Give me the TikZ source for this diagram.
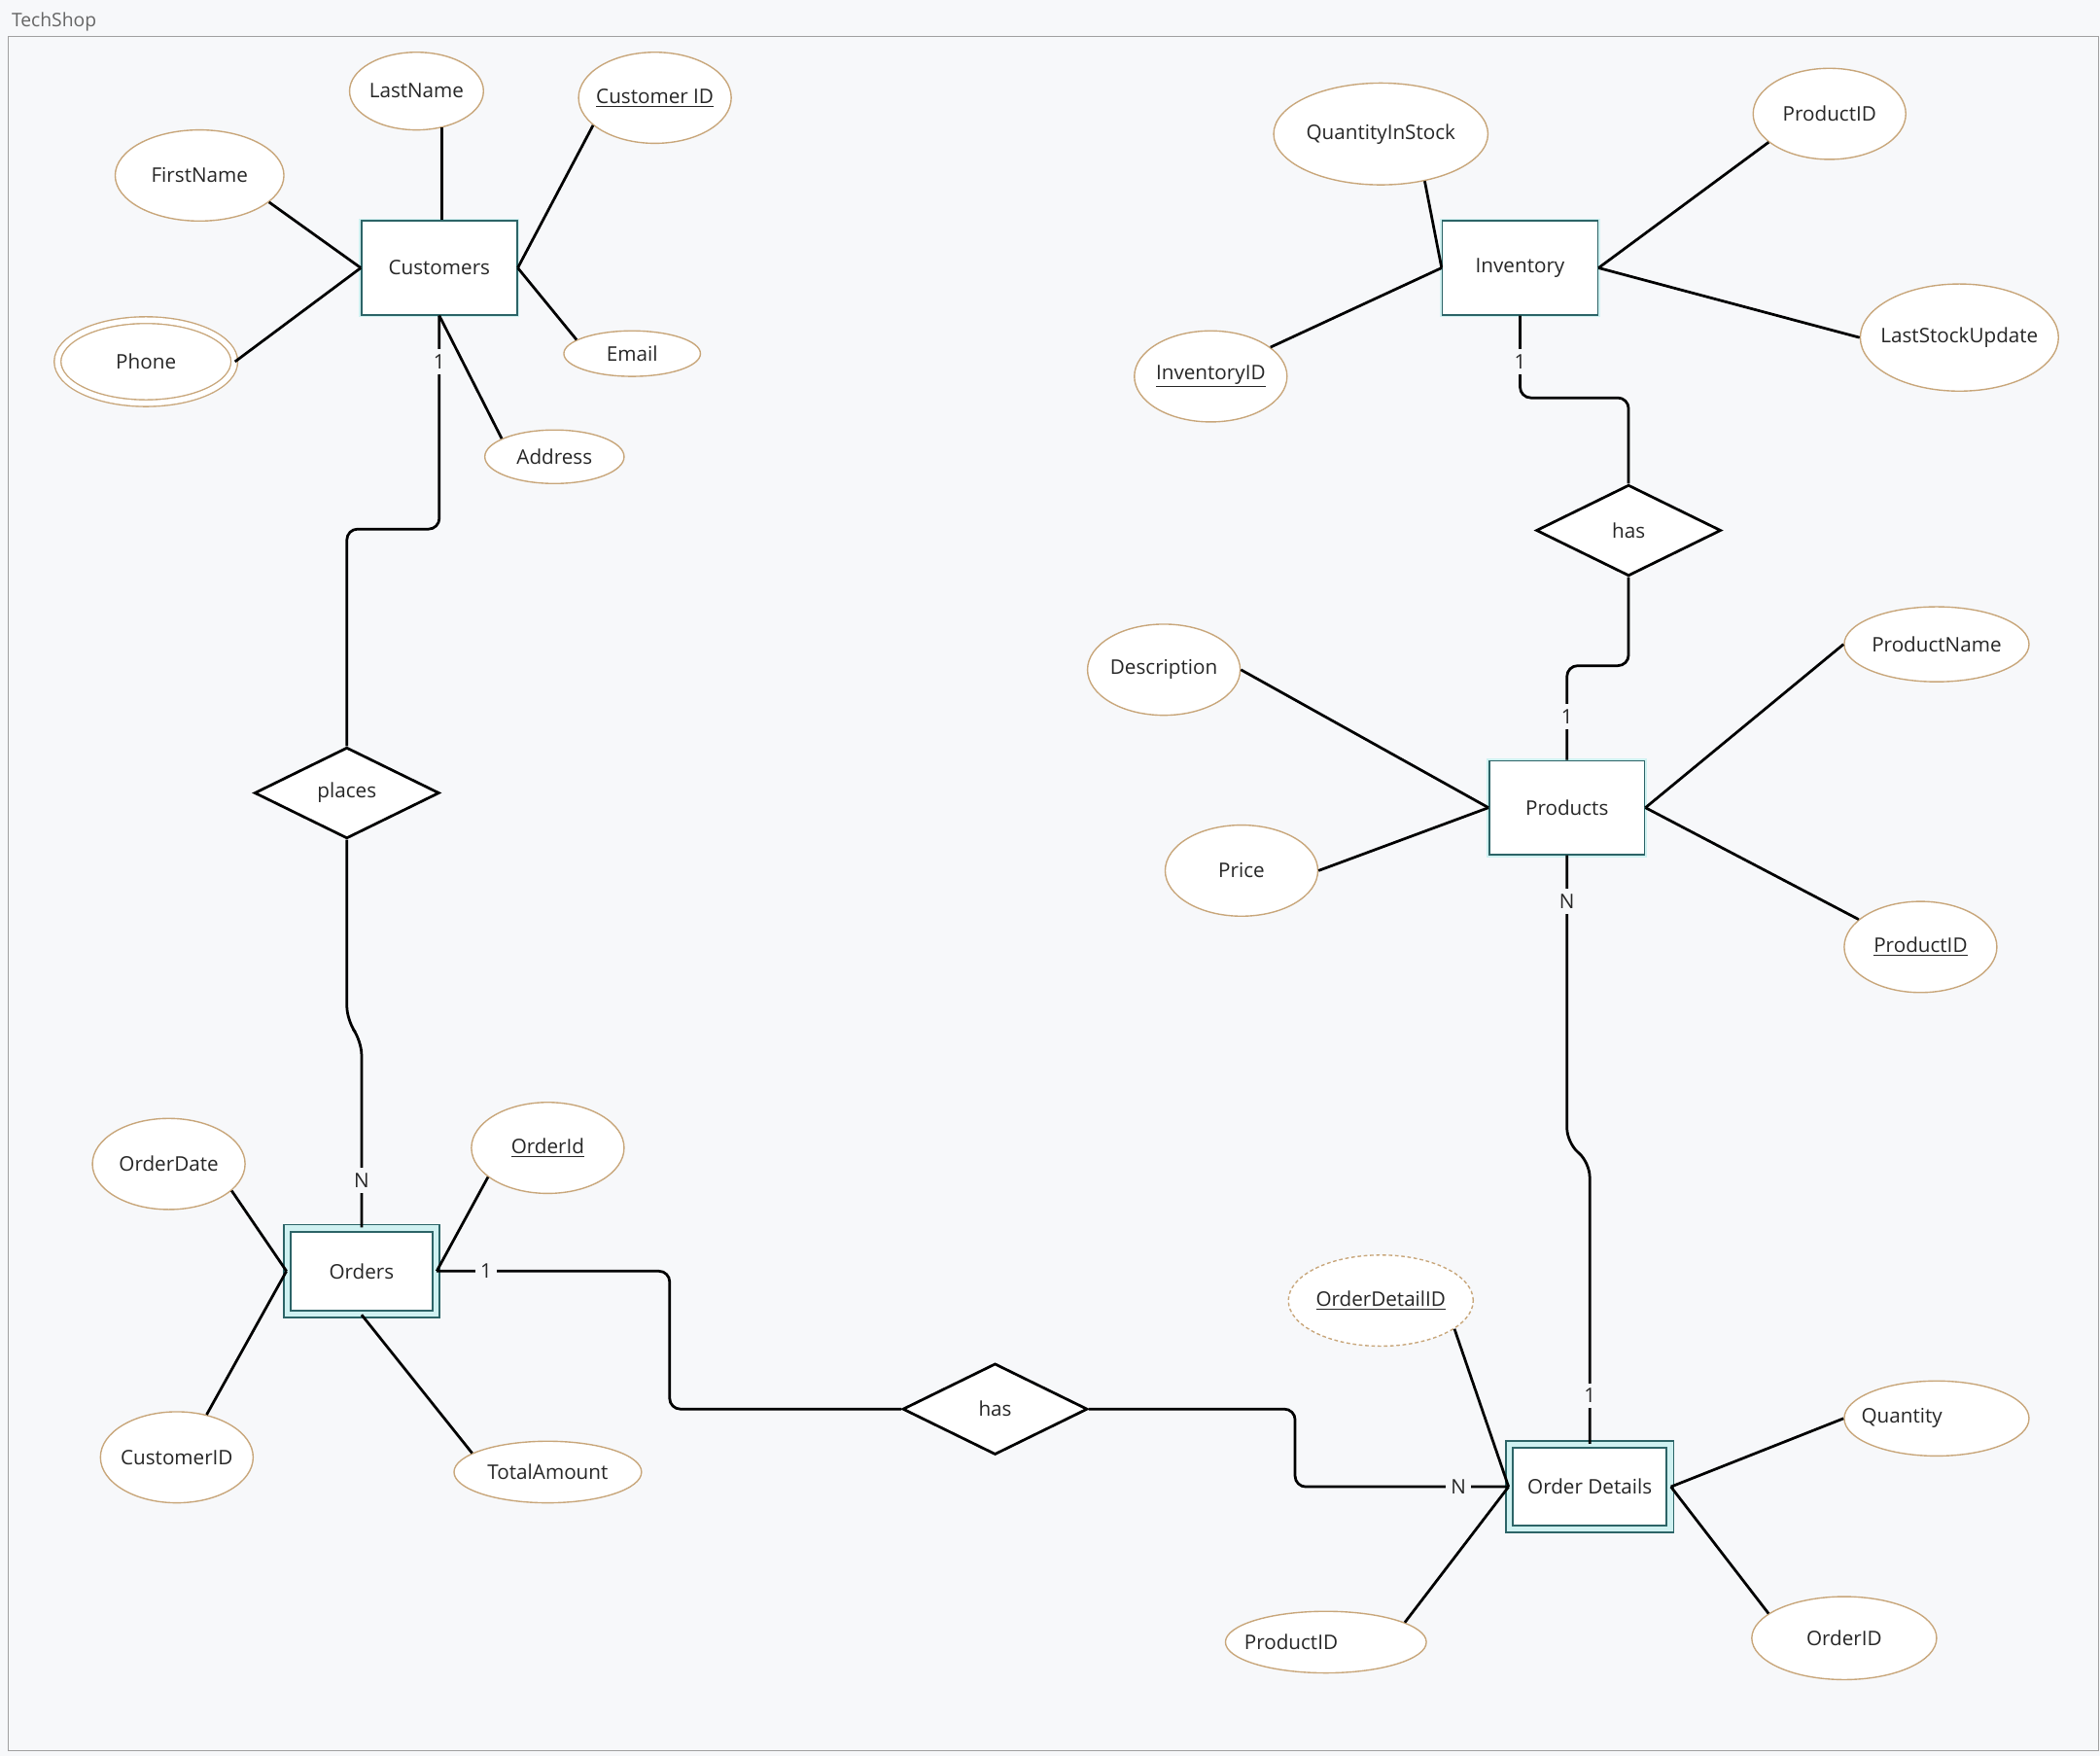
\documentclass[tikz,border=0pt]{standalone}
\usepackage{fontspec}
\setmainfont{Open Sans}
\usepackage{tikz}
\usetikzlibrary{shapes.geometric}

\definecolor{bgpage}{HTML}{F7F8FA}
\definecolor{attrline}{HTML}{C8A67A}
\definecolor{entline}{HTML}{2C6467}
\definecolor{entglow}{HTML}{CFF1F1}
\definecolor{frameline}{HTML}{A0A0A0}
\newcommand{\nw}[1]{\makebox[0pt]{#1}}

\begin{document}
\begin{tikzpicture}[x=0.75pt,y=0.75pt,yscale=-1,xscale=1,
  every node/.style={font=\fontsize{11.25}{13}\selectfont, text=black!85},
  attr/.style={ellipse, draw=attrline, line width=0.75, fill=white, inner sep=0pt},
  ent/.style={rectangle, draw=entline, line width=0.9, fill=white, inner sep=0pt,
    minimum width=87pt, minimum height=52.5pt, preaction={draw=entglow, line width=3pt}},
  weak/.style={rectangle, draw=entline, line width=0.9, fill=white, inner sep=0pt,
    double=entglow, double distance=3pt},
  rel/.style={diamond, draw=black, line width=1.5, fill=white, inner sep=0pt,
    minimum width=103.5pt, minimum height=51pt},
  link/.style={line width=1.5, draw=black},
  card/.style={fill=bgpage, inner sep=3pt}
]
%set diagram size
\fill[bgpage] (0,0) rectangle (1568,1311);
\useasboundingbox (0,0) rectangle (1568,1311);

%Shape: Frame
\draw[frameline, line width=0.75] (6,27) rectangle (1567,1307);
% Text Node
\node[anchor=west, text=black!60, font=\fontsize{10.5}{12}\selectfont] (title) at (4,16) {TechShop};

%Entities
\node[ent] (cust) at (328,200) {\nw{Customers}};
\node[ent] (inv) at (1135,200) {\nw{Inventory}};
\node[ent] (prod) at (1170,603) {\nw{Products}};
\node[weak, minimum width=83.25pt, minimum height=48pt] (orders) at (270,949) {\nw{Orders}};
\node[weak, minimum width=90pt, minimum height=47.25pt] (od) at (1187,1110) {\nw{Order Details}};

%Relationships
\node[rel] (places) at (259,592) {\nw{places}};
\node[rel] (hasod) at (743,1052) {\nw{has}};
\node[rel] (hasinv) at (1216,396) {\nw{has}};

%Attributes of Customers
\node[attr, minimum width=75pt, minimum height=43.5pt] (lname) at (311,68) {\nw{LastName}};
\node[attr, minimum width=85.5pt, minimum height=51pt] (custid) at (489,73) {\nw{\underline{Customer ID}}};
\node[attr, minimum width=94.5pt, minimum height=51pt] (fname) at (149,131) {\nw{FirstName}};
\node[attr, double=white, double distance=3pt, minimum width=99pt, minimum height=46.5pt] (phone) at (109,270) {\nw{Phone}};
\node[attr, minimum width=76.5pt, minimum height=25.5pt] (email) at (472,264) {\nw{Email}};
\node[attr, minimum width=78pt, minimum height=30pt] (addr) at (414,341) {\nw{Address}};

%Attributes of Orders
\node[attr, minimum width=85.5pt, minimum height=51pt] (odate) at (126,869) {\nw{OrderDate}};
\node[attr, minimum width=85.5pt, minimum height=51pt] (oid) at (409,857) {\nw{\underline{OrderId}}};
\node[attr, minimum width=85.5pt, minimum height=51pt] (ocust) at (132,1088) {\nw{CustomerID}};
\node[attr, minimum width=105pt, minimum height=34.5pt] (total) at (409,1099) {\nw{TotalAmount}};

%Attributes of Order Details
\node[attr, dashed, dash pattern=on 2pt off 1.5pt, minimum width=103.5pt, minimum height=51pt] (odid) at (1031,971) {\nw{\underline{OrderDetailID}}};
\node[attr, minimum width=103.5pt, minimum height=42pt] (qty) at (1446,1059) {\nw{Quantity\hspace{39pt}}};
\node[attr, minimum width=112.5pt, minimum height=34.5pt] (odprod) at (990,1226) {\nw{ProductID\hspace{39pt}}};
\node[attr, minimum width=103.5pt, minimum height=46.5pt] (odorder) at (1377,1223) {\nw{OrderID}};

%Attributes of Products
\node[attr, minimum width=85.5pt, minimum height=51pt] (descr) at (869,500) {\nw{Description}};
\node[attr, minimum width=85.5pt, minimum height=51pt] (price) at (927,650) {\nw{Price}};
\node[attr, minimum width=103.5pt, minimum height=42pt] (pname) at (1446,481) {\nw{ProductName}};
\node[attr, minimum width=85.5pt, minimum height=51pt] (pid) at (1434,707) {\nw{\underline{ProductID}}};

%Attributes of Inventory
\node[attr, minimum width=120pt, minimum height=57pt] (qis) at (1031,100) {\nw{QuantityInStock}};
\node[attr, minimum width=85.5pt, minimum height=51pt] (invprod) at (1366,85) {\nw{ProductID}};
\node[attr, minimum width=85.5pt, minimum height=51pt] (invid) at (904,281) {\nw{\underline{InventoryID}}};
\node[attr, minimum width=111pt, minimum height=60pt] (lsu) at (1463,252) {\nw{LastStockUpdate}};

%Straight Lines: attributes
\draw[link] (lname.-55) -- (lname.-55 |- cust.north);
\draw[link] (custid.-156) -- (cust.east);
\draw[link] (fname.-21) -- (cust.west);
\draw[link] (phone.east) -- (cust.west);
\draw[link] (email.166) -- (cust.east);
\draw[link] (addr.161) -- (cust.south);
\draw[link] (odate.-23) -- (orders.west);
\draw[link] (oid.-154) -- (orders.east);
\draw[link] (ocust.55) -- (orders.west);
\draw[link] (total.166) -- (orders.south);
\draw[link] (odid.-21) -- (od.west);
\draw[link] (qty.west) -- (od.east);
\draw[link] (odprod.14) -- (od.west);
\draw[link] (odorder.162) -- (od.east);
\draw[link] (descr.east) -- (prod.west);
\draw[link] (price.east) -- (prod.west);
\draw[link] (pname.west) -- (prod.east);
\draw[link] (pid.156) -- (prod.east);
\draw[link] (qis.-47) -- (inv.west);
\draw[link] (invprod.-155) -- (inv.east);
\draw[link] (invid.26) -- (inv.west);
\draw[link] (lsu.west) -- (inv.east);

%Connectors: relationships
\draw[link, rounded corners=6] (cust.south) -- (328,395) -- (259,395) -- (places.north);
\draw[link, rounded corners=8] (places.south) -- (259,762) -- (270,777) -- (orders.north);
\draw[link, rounded corners=6] (orders.east) -- (500,949) -- (500,1052) -- (hasod.west);
\draw[link, rounded corners=6] (hasod.east) -- (967,1052) -- (967,1110) -- (od.west);
\draw[link, rounded corners=8] (prod.south) -- (1170,853) -- (1187,868) -- (od.north);
\draw[link, rounded corners=6] (inv.south) -- (1135,297) -- (1216,297) -- (hasinv.north);
\draw[link, rounded corners=6] (hasinv.south) -- (1216,497) -- (1170,497) -- (prod.north);

% Text Node: cardinalities
\node[card] (custone) at (328,270) {1};
\node[card] (ordmany) at (270,881) {N};
\node[card] (ordone) at (363,949) {1};
\node[card] (odmany) at (1089,1110) {N};
\node[card] (odone) at (1187,1042) {1};
\node[card] (prodmany) at (1170,673) {N};
\node[card] (prodone) at (1170,535) {1};
\node[card] (invone) at (1135,270) {1};

\end{tikzpicture}
\end{document}
